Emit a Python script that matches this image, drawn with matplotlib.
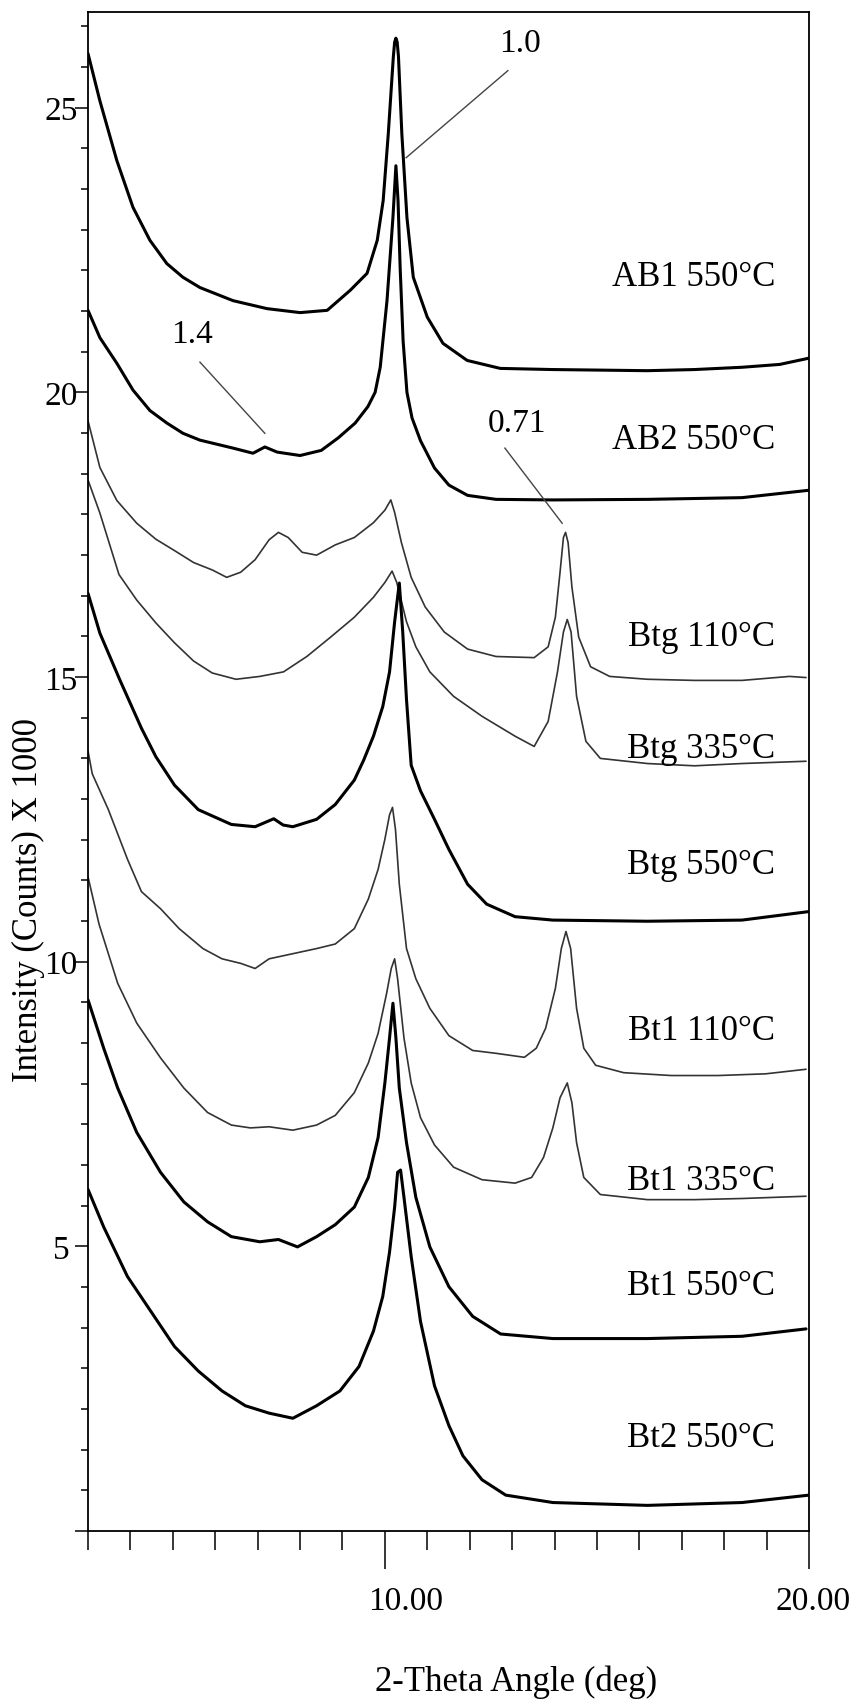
import matplotlib
matplotlib.use("Agg")
import matplotlib.pyplot as plt
import matplotlib.transforms as mtransforms
from matplotlib.ticker import MultipleLocator, FixedLocator

plt.rcParams['font.family'] = ['Liberation Serif', 'DejaVu Serif']

# ---------------- data (2-theta in deg, intensity in counts x 1000) ----------------
ab1_x = [3.0, 3.28, 3.68, 4.06, 4.46, 4.86, 5.24, 5.64, 6.42, 7.22, 8.0, 8.64, 9.18, 9.58, 9.82,
         9.96, 10.08, 10.2, 10.23, 10.26, 10.29, 10.32, 10.4, 10.52, 10.67, 11.0, 11.37, 11.94,
         12.72, 13.96, 15.08, 16.19, 17.3, 18.42, 19.31, 20.0]
ab1_y = [25.95, 25.12, 24.07, 23.25, 22.67, 22.26, 22.02, 21.84, 21.61, 21.47, 21.4, 21.44, 21.79,
         22.09, 22.67, 23.37, 24.54, 25.9, 26.15, 26.22, 26.15, 25.9, 24.54, 23.07, 22.02, 21.32,
         20.86, 20.56, 20.42, 20.4, 20.39, 20.38, 20.4, 20.44, 20.49, 20.6]

ab2_x = [3.0, 3.28, 3.68, 4.06, 4.46, 4.86, 5.24, 5.64, 6.42, 6.89, 7.17, 7.46, 8.0, 8.5, 8.9,
         9.3, 9.6, 9.77, 9.89, 10.05, 10.19, 10.26, 10.31, 10.36, 10.43, 10.52, 10.64, 10.84,
         11.17, 11.51, 11.95, 12.62, 13.96, 16.19, 18.42, 20.0]
ab2_y = [21.44, 20.96, 20.51, 20.04, 19.68, 19.46, 19.28, 19.16, 19.02, 18.93, 19.04, 18.95, 18.89,
         18.98, 19.2, 19.46, 19.75, 20.0, 20.44, 21.61, 23.07, 23.98, 23.37, 22.19, 20.9, 20.0,
         19.55, 19.15, 18.67, 18.37, 18.19, 18.12, 18.11, 18.12, 18.15, 18.28]

btg110_x = [3.0, 3.28, 3.68, 4.15, 4.6, 5.04, 5.49, 5.93, 6.27, 6.6, 6.94, 7.27, 7.49, 7.72, 8.05,
            8.39, 8.83, 9.28, 9.73, 10.0, 10.14, 10.23, 10.39, 10.62, 10.95, 11.4, 11.95, 12.62,
            13.52, 13.85, 14.02, 14.13, 14.21, 14.26, 14.32, 14.41, 14.57, 14.85, 15.3, 16.19,
            17.3, 18.42, 19.54, 19.93]
btg110_y = [19.5, 18.68, 18.1, 17.7, 17.42, 17.22, 17.01, 16.88, 16.75, 16.84, 17.06, 17.41, 17.54,
            17.45, 17.19, 17.14, 17.32, 17.45, 17.71, 17.93, 18.11, 17.89, 17.36, 16.75, 16.23,
            15.79, 15.49, 15.36, 15.34, 15.53, 16.05, 16.84, 17.45, 17.54, 17.36, 16.58, 15.7,
            15.18, 15.01, 14.96, 14.94, 14.94, 15.01, 14.99]

btg335_x = [3.0, 3.28, 3.73, 4.15, 4.6, 5.04, 5.49, 5.93, 6.49, 7.05, 7.61, 8.16, 8.72, 9.28,
            9.73, 10.0, 10.17, 10.28, 10.51, 10.73, 11.06, 11.62, 12.29, 13.07, 13.52, 13.85,
            14.07, 14.21, 14.3, 14.39, 14.52, 14.74, 15.08, 16.19, 17.3, 18.42, 19.93]
btg335_y = [18.46, 17.88, 16.8, 16.35, 15.95, 15.6, 15.28, 15.07, 14.96, 15.01, 15.09, 15.36, 15.7,
            16.05, 16.4, 16.66, 16.86, 16.66, 15.97, 15.53, 15.09, 14.66, 14.31, 13.96, 13.78,
            14.22, 15.09, 15.79, 16.01, 15.79, 14.66, 13.87, 13.57, 13.48, 13.44, 13.48, 13.52]

btg550_x = [3.0, 3.28, 3.75, 4.26, 4.6, 5.04, 5.6, 6.38, 6.94, 7.38, 7.6, 7.83, 8.39, 8.83, 9.28,
            9.5, 9.73, 9.95, 10.11, 10.23, 10.34, 10.42, 10.51, 10.62, 10.84, 11.17, 11.51, 11.95,
            12.4, 13.07, 13.96, 16.19, 18.42, 20.0]
btg550_y = [16.47, 15.77, 14.95, 14.1, 13.6, 13.1, 12.67, 12.41, 12.37, 12.51, 12.4, 12.37, 12.5,
            12.76, 13.19, 13.54, 13.96, 14.48, 15.09, 15.97, 16.65, 15.8, 14.6, 13.45, 13.0, 12.5,
            11.97, 11.36, 11.01, 10.79, 10.73, 10.71, 10.73, 10.88]

bt1_110_x = [3.0, 3.1, 3.48, 3.93, 4.26, 4.71, 5.15, 5.71, 6.16, 6.6, 6.94, 7.27, 7.83, 8.39, 8.83,
             9.28, 9.61, 9.84, 10.0, 10.11, 10.18, 10.25, 10.34, 10.51, 10.73, 11.06, 11.51, 12.07,
             12.62, 13.29, 13.57, 13.79, 14.02, 14.16, 14.27, 14.38, 14.52, 14.69, 14.97, 15.63,
             16.75, 17.86, 18.98, 19.93]
bt1_110_y = [13.7, 13.3, 12.67, 11.8, 11.23, 10.93, 10.58, 10.23, 10.05, 9.97, 9.88, 10.05, 10.14,
             10.23, 10.31, 10.58, 11.1, 11.62, 12.15, 12.58, 12.71, 12.32, 11.36, 10.23, 9.7, 9.18,
             8.7, 8.44, 8.39, 8.32, 8.48, 8.83, 9.53, 10.23, 10.53, 10.23, 9.18, 8.48, 8.18, 8.05,
             8.0, 8.0, 8.03, 8.11]

bt1_335_x = [3.0, 3.26, 3.7, 4.15, 4.71, 5.26, 5.82, 6.38, 6.83, 7.27, 7.83, 8.39, 8.83, 9.28,
             9.61, 9.84, 10.04, 10.15, 10.23, 10.3, 10.45, 10.62, 10.84, 11.17, 11.62, 12.29, 13.07,
             13.46, 13.74, 13.96, 14.13, 14.3, 14.41, 14.52, 14.69, 15.08, 16.19, 17.3, 18.42, 19.93]
bt1_335_y = [11.49, 10.66, 9.62, 8.92, 8.31, 7.78, 7.35, 7.13, 7.08, 7.1, 7.04, 7.13, 7.3, 7.7,
             8.22, 8.74, 9.44, 9.88, 10.05, 9.7, 8.66, 7.87, 7.26, 6.78, 6.39, 6.17, 6.11, 6.21,
             6.56, 7.08, 7.61, 7.87, 7.52, 6.82, 6.21, 5.91, 5.82, 5.82, 5.84, 5.88]

bt1_550_x = [3.0, 3.37, 3.7, 4.15, 4.71, 5.26, 5.82, 6.38, 7.05, 7.49, 7.94, 8.39, 8.83, 9.28,
             9.61, 9.84, 10.0, 10.11, 10.19, 10.26, 10.34, 10.51, 10.73, 11.06, 11.51, 12.07,
             12.73, 13.96, 16.19, 18.42, 19.93]
bt1_550_y = [9.33, 8.48, 7.78, 7.0, 6.3, 5.78, 5.43, 5.17, 5.08, 5.12, 4.99, 5.17, 5.38, 5.69,
             6.21, 6.91, 7.87, 8.66, 9.27, 8.66, 7.78, 6.82, 5.86, 4.99, 4.29, 3.77, 3.46, 3.38,
             3.38, 3.42, 3.55]

bt2_550_x = [3.0, 3.37, 3.93, 4.48, 5.04, 5.6, 6.16, 6.71, 7.27, 7.83, 8.39, 8.94, 9.39, 9.73,
             9.95, 10.11, 10.23, 10.3, 10.37, 10.45, 10.62, 10.84, 11.17, 11.51, 11.84, 12.29,
             12.85, 13.96, 16.19, 18.42, 20.0]
bt2_550_y = [6.0, 5.34, 4.47, 3.86, 3.24, 2.81, 2.46, 2.2, 2.07, 1.98, 2.2, 2.46, 2.89, 3.51, 4.12,
             4.9, 5.69, 6.3, 6.34, 5.86, 4.82, 3.68, 2.55, 1.85, 1.32, 0.9, 0.63, 0.5, 0.45, 0.5,
             0.63]

series_names = ["AB1 550°C", "AB2 550°C", "Btg 110°C", "Btg 335°C", "Btg 550°C",
                "Bt1 110°C", "Bt1 335°C", "Bt1 550°C", "Bt2 550°C"]
series_x = [ab1_x, ab2_x, btg110_x, btg335_x, btg550_x, bt1_110_x, bt1_335_x, bt1_550_x, bt2_550_x]
series_y = [ab1_y, ab2_y, btg110_y, btg335_y, btg550_y, bt1_110_y, bt1_335_y, bt1_550_y, bt2_550_y]
series_thick = [True, True, False, False, True, False, False, True, True]

# label baselines (counts x 1000) for the sample names at the right
label_baseline = [21.89, 19.02, 15.56, 13.6, 11.56, 8.65, 6.0, 4.16, 1.49]

# peak annotations: text, text centre, leader line start, leader line end
ann_text = ["1.0", "1.4", "0.71"]
ann_text_xy = [(13.19, 26.14), (5.45, 21.02), (13.12, 19.47)]
ann_line_from = [(12.9, 25.65), (5.64, 20.53), (12.83, 19.02)]
ann_line_to = [(10.5, 24.12), (7.17, 19.28), (14.18, 17.7)]

xtick_major = [10, 20]
xtick_labels = ["10.00", "20.00"]
ytick_major = [0, 5, 10, 15, 20, 25]
ytick_labels = ["", "5", "10", "15", "20", "25"]

# ---------------- figure ----------------
W, H, DPI = 856, 1706, 100
fig = plt.figure(figsize=(W / DPI, H / DPI), dpi=DPI)
ax = fig.add_axes([88 / W, 1 - 1532 / H, (809 - 88) / W, (1532 - 13) / H])

for xs, ys, thick in zip(series_x, series_y, series_thick):
    if thick:
        ax.plot(xs, ys, color="#000000", lw=2.2, solid_joinstyle="round", solid_capstyle="round")
    else:
        ax.plot(xs, ys, color="#333333", lw=1.2, solid_joinstyle="round", solid_capstyle="round")

for name, yb in zip(series_names, label_baseline):
    ax.text(19.2, yb, name, ha="right", va="baseline", fontsize=25, color="#000000")

for t, txy, p0, p1 in zip(ann_text, ann_text_xy, ann_line_from, ann_line_to):
    ax.text(txy[0], txy[1], t, ha="center", va="center", fontsize=24, color="#000000")
    ax.plot([p0[0], p1[0]], [p0[1], p1[1]], color="#444444", lw=1.0)

ax.set_xlim(3, 20)
ax.set_ylim(0, 26.68)

# x ticks
ax.xaxis.set_major_locator(FixedLocator(xtick_major))
ax.xaxis.set_minor_locator(MultipleLocator(1))
ax.set_xticklabels([])
ax.tick_params(axis="x", which="major", direction="out", length=27.4, width=1.1, color="black")
ax.tick_params(axis="x", which="minor", direction="out", length=13.7, width=1.1, color="black")
xlab_trans = mtransforms.offset_copy(ax.get_xaxis_transform(), fig=fig, x=21, y=0, units="dots")
xlab_trans20 = mtransforms.offset_copy(ax.get_xaxis_transform(), fig=fig, x=4, y=0, units="dots")
for val, lab, tr in zip(xtick_major, xtick_labels, [xlab_trans, xlab_trans20]):
    ax.text(val, -0.0460, lab, transform=tr, ha="center", va="center", fontsize=24, color="#000000")

# y ticks
ax.yaxis.set_major_locator(FixedLocator(ytick_major))
ax.yaxis.set_minor_locator(MultipleLocator(5 / 7))
ax.set_yticklabels(ytick_labels)
ax.tick_params(axis="y", which="major", direction="out", length=9.4, width=1.1, pad=10.0,
               labelsize=24, color="black")
ax.tick_params(axis="y", which="minor", direction="out", length=5.0, width=1.1, color="black")
for lbl in ax.get_yticklabels():
    lbl.set_horizontalalignment("center")

for sp in ax.spines.values():
    sp.set_linewidth(1.3)
    sp.set_color("black")

ax.set_xlabel("2-Theta Angle (deg)", fontsize=25)
ax.xaxis.set_label_coords((516 - 88) / (809 - 88), (1532 - 1666) / (1532 - 13))
ax.set_ylabel("Intensity (Counts) X 1000", fontsize=25)
ax.yaxis.set_label_coords((45 - 88) / (809 - 88), (1532 - 900) / (1532 - 13))

fig.savefig("out.png", dpi=DPI)
